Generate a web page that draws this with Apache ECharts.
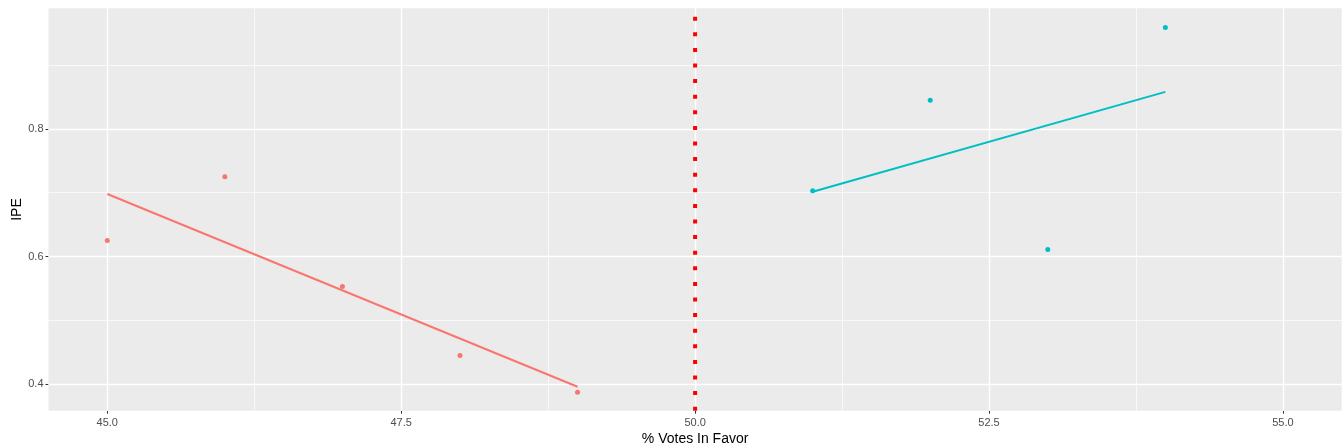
<!DOCTYPE html>
<html>
<head>
<meta charset="utf-8">
<script src="https://cdn.jsdelivr.net/npm/echarts@6/dist/echarts.min.js"></script>
<style>html,body{margin:0;padding:0;background:#fff;}#c{width:1343px;height:448px;}</style>
</head>
<body>
<div id="c"></div>
<script>
// Data
const leftX = [45, 46, 47, 48, 49];
const leftY = [0.625, 0.725, 0.553, 0.445, 0.3875];
const rightX = [51, 52, 53, 54];
const rightY = [0.703, 0.845, 0.611, 0.959];
const leftFitX = [45, 49];
const leftFitY = [0.698, 0.396];
const rightFitX = [51, 54];
const rightFitY = [0.7015, 0.858];
const cutoff = 50;
const xTicks = [45, 47.5, 50, 52.5, 55];
const xMinorGrid = [46.25, 48.75, 51.25, 53.75];
const yTicks = [0.4, 0.6, 0.8];
const yMinorGrid = [0.5, 0.7, 0.9];
const xRange = [44.5, 55.5];
const yRange = [0.3585, 0.989];

const zip = (a, b) => a.map((v, i) => [v, b[i]]);
const FONT = '"Liberation Sans", Arial, sans-serif';

const gridLines = [];
xMinorGrid.forEach(v => gridLines.push({xAxis: v, lineStyle: {width: 0.7}}));
yMinorGrid.forEach(v => gridLines.push({yAxis: v, lineStyle: {width: 0.7}}));
xTicks.forEach(v => gridLines.push({xAxis: v, lineStyle: {width: 1.4}}));
yTicks.forEach(v => gridLines.push({yAxis: v, lineStyle: {width: 1.4}}));

const chart = echarts.init(document.getElementById('c'), null, {renderer: 'canvas'});
chart.setOption({
  animation: false,
  backgroundColor: '#ffffff',
  grid: {left: 48.5, right: 1.3, top: 8.3, bottom: 37.3, show: true, backgroundColor: '#EBEBEB', borderWidth: 0,
    containLabel: false, outerBoundsMode: 'none'},
  xAxis: {
    type: 'value', min: xRange[0], max: xRange[1],
    name: '% Votes In Favor', nameLocation: 'middle', nameGap: 21, nameMoveOverlap: false,
    nameTextStyle: {color: '#000', fontSize: 14, fontFamily: FONT},
    axisLine: {show: false},
    axisTick: {show: true, length: 3, customValues: xTicks, lineStyle: {color: '#333', width: 1}},
    axisLabel: {customValues: xTicks, formatter: v => v.toFixed(1), color: '#4D4D4D', fontSize: 11, fontFamily: FONT, margin: 7},
    splitLine: {show: false}
  },
  yAxis: {
    type: 'value', min: yRange[0], max: yRange[1],
    name: 'IPE', nameLocation: 'middle', nameGap: 24, nameRotate: 90, nameMoveOverlap: false,
    nameTextStyle: {color: '#000', fontSize: 14, fontFamily: FONT},
    axisLine: {show: false},
    axisTick: {show: true, length: 3, customValues: yTicks, lineStyle: {color: '#333', width: 1}},
    axisLabel: {customValues: yTicks, formatter: v => v.toFixed(1), color: '#4D4D4D', fontSize: 11, fontFamily: FONT, margin: 5},
    splitLine: {show: false}
  },
  series: [
    {
      type: 'scatter', data: [], z: 1, silent: true,
      markLine: {silent: true, z: 1, symbol: ['none', 'none'], label: {show: false}, animation: false,
        lineStyle: {color: '#ffffff', type: 'solid'}, data: gridLines}
    },
    {
      type: 'line', data: zip([cutoff, cutoff], [yRange[0], yRange[1]]), z: 10, symbol: 'none', silent: true,
      lineStyle: {color: '#FF0000', width: 4, type: [4, 11.6], cap: 'butt'}
    },
    {
      type: 'line', data: zip(leftFitX, leftFitY), z: 11, symbol: 'none',
      lineStyle: {color: '#F8766D', width: 2}
    },
    {
      type: 'line', data: zip(rightFitX, rightFitY), z: 11, symbol: 'none',
      lineStyle: {color: '#00BFC4', width: 2}
    },
    {
      type: 'scatter', data: zip(leftX, leftY), z: 12, symbolSize: 5,
      itemStyle: {color: '#F8766D', opacity: 1}
    },
    {
      type: 'scatter', data: zip(rightX, rightY), z: 12, symbolSize: 5,
      itemStyle: {color: '#00BFC4', opacity: 1}
    }
  ]
});
</script>
</body>
</html>
